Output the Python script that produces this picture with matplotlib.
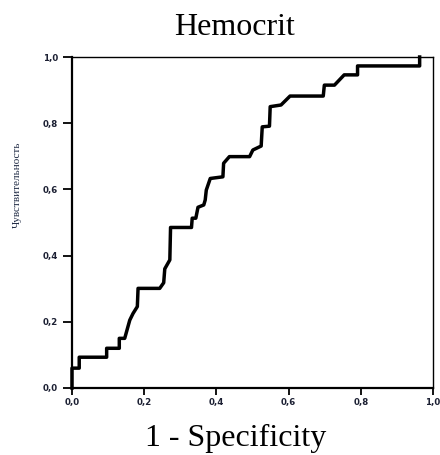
import matplotlib
matplotlib.use("Agg")
import matplotlib.pyplot as plt

# ROC curve
fpr = [0.0, 0.0, 0.02, 0.02, 0.096, 0.096, 0.131, 0.131, 0.146, 0.16, 0.169,
       0.181, 0.183, 0.243, 0.254, 0.257, 0.271, 0.273, 0.331, 0.333, 0.343,
       0.349, 0.365, 0.369, 0.372, 0.383, 0.418, 0.42, 0.436, 0.492, 0.501,
       0.524, 0.527, 0.547, 0.549, 0.579, 0.604, 0.696, 0.699, 0.727, 0.754,
       0.791, 0.791, 0.963, 0.963]
tpr = [0.0, 0.06, 0.06, 0.093, 0.093, 0.12, 0.12, 0.15, 0.15, 0.205, 0.225,
       0.246, 0.301, 0.301, 0.318, 0.36, 0.387, 0.485, 0.485, 0.513, 0.513,
       0.546, 0.553, 0.568, 0.598, 0.633, 0.638, 0.679, 0.699, 0.699, 0.719,
       0.731, 0.789, 0.791, 0.85, 0.855, 0.882, 0.882, 0.915, 0.915, 0.946,
       0.946, 0.973, 0.973, 1.0]

ticks = [0.0, 0.2, 0.4, 0.6, 0.8, 1.0]
tick_labels = ["0,0", "0,2", "0,4", "0,6", "0,8", "1,0"]

fig = plt.figure(figsize=(4.4, 4.55), dpi=100)
ax = fig.add_axes([72 / 440, 67 / 455, 361 / 440, 331 / 455])

ax.plot(fpr, tpr, color="black", linewidth=2.5, clip_on=False)

ax.set_xlim(0, 1)
ax.set_ylim(0, 1)
ax.set_xticks(ticks)
ax.set_xticklabels(tick_labels)
ax.set_yticks(ticks)
ax.set_yticklabels(tick_labels)

for lab in ax.get_xticklabels() + ax.get_yticklabels():
    lab.set_fontsize(6.2)
    lab.set_fontweight("bold")
    lab.set_color("#1c2033")

ax.tick_params(axis="y", direction="out", length=6.5, width=1.3, pad=3.5)
ax.tick_params(axis="x", direction="out", length=5, width=1.3, pad=2)

ax.spines["left"].set_linewidth(1.6)
ax.spines["bottom"].set_linewidth(1.6)
ax.spines["top"].set_linewidth(1.0)
ax.spines["right"].set_linewidth(1.0)

fig.text(235 / 440, 1 - 35 / 455, "Hemocrit", family="Liberation Serif",
         fontsize=23, ha="center", va="baseline")
fig.text(236 / 440, 1 - 446 / 455, "1 - Specificity", family="Liberation Serif",
         fontsize=23, ha="center", va="baseline")
fig.text(17 / 440, 1 - 185 / 455, "Чувствительность", family="Liberation Serif",
         fontsize=8, rotation=90, ha="center", va="center", color="#1f2a44")

fig.savefig("out.png", dpi=100)
